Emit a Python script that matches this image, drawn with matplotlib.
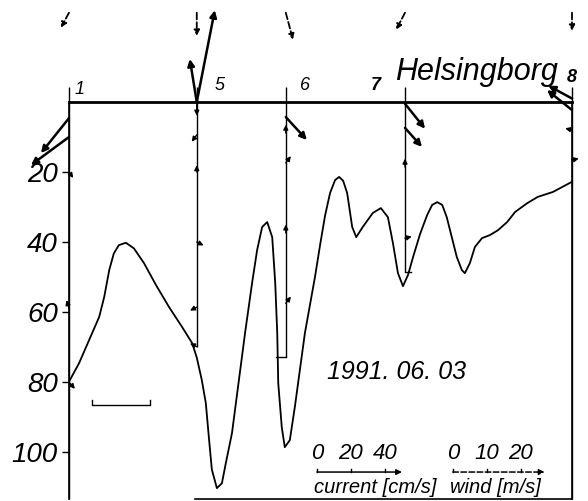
"""
Section plot 1991-06-03 off Helsingborg: pycnocline depth along the
station line, current vectors at the stations and wind at the surface.
"""
import matplotlib
matplotlib.use("Agg")
import matplotlib.pyplot as plt
import numpy as np

# stations along the section (distance in km from station 1)
station_names = ["1", "5", "6", "7", "8"]
station_dist = [0.0, 2.54, 4.31, 6.68, 10.0]
station_bottom = [113.4, 69.9, 72.9, 48.5, 113.4]

# interface depth (m) along the section
section_dist = [0.00, 0.20, 0.40, 0.60, 0.70, 0.80, 0.89, 0.99, 1.13, 1.29,
                1.49, 1.73, 1.99, 2.25, 2.45, 2.54, 2.64, 2.72, 2.78, 2.84,
                2.94, 3.04, 3.12, 3.24, 3.36, 3.50, 3.64, 3.74, 3.84, 3.94,
                4.04, 4.10, 4.14, 4.16, 4.23, 4.29, 4.39, 4.49, 4.69, 4.79,
                4.89, 4.99, 5.09, 5.19, 5.29, 5.37, 5.45, 5.53, 5.63, 5.71,
                5.84, 6.04, 6.20, 6.34, 6.44, 6.54, 6.64, 6.74, 6.84, 6.98,
                7.12, 7.22, 7.32, 7.42, 7.51, 7.61, 7.71, 7.81, 7.87, 7.97,
                8.07, 8.21, 8.37, 8.53, 8.71, 8.87, 9.11, 9.32, 9.62, 9.96,
                10.00]
section_depth = [79.9, 74.6, 68.0, 61.4, 55.7, 48.0, 43.3, 40.9, 40.2, 41.8,
                 46.0, 52.3, 58.6, 64.3, 68.9, 73.0, 79.4, 86.0, 95.7, 105.0,
                 110.3, 108.9, 103.0, 94.6, 81.4, 66.0, 51.7, 42.3, 35.7, 34.3,
                 38.6, 51.7, 66.0, 80.3, 92.9, 98.6, 96.6, 87.1, 66.0, 58.0,
                 50.0, 41.0, 32.5, 26.0, 22.3, 21.4, 22.5, 26.0, 35.7, 38.6,
                 35.7, 31.7, 30.3, 32.9, 40.3, 48.9, 52.6, 49.4, 44.3, 37.7,
                 32.3, 29.4, 28.6, 29.4, 32.9, 38.6, 44.3, 48.0, 48.9, 46.0,
                 41.4, 38.9, 38.0, 36.6, 34.3, 31.4, 28.9, 27.1, 25.7, 23.1,
                 22.8]

# current vectors: station index, depth (m), east and north component (cm/s)
cur_station = [0, 0, 0, 0, 0,
               1, 1, 1, 1, 1, 1, 1, 1,
               2, 2, 2, 2, 2,
               3, 3, 3, 3,
               4, 4, 4, 4]
cur_depth = [4.6, 10.0, 20.0, 59.0, 80.0,
             0.0, 0.0, 0.5, 9.4, 20.0, 40.0, 58.6, 69.9,
             4.3, 8.9, 17.4, 37.4, 57.5,
             0.5, 7.4, 18.6, 38.9,
             2.3, -1.0, 8.0, 16.6]
cur_u = [-16.5, -22.4, 2.5, -1.5, 3.5,
         10.6, -4.1, 0.0, -3.0, 0.0, 4.0, -4.0, -4.0,
         12.4, 0.0, 3.0, 0.0, 3.0,
         11.8, 10.0, 0.0, 4.0,
         -14.7, -14.0, -4.0, 4.0]
cur_v = [-20.6, -16.5, -3.5, 5.0, -4.0,
         54.0, 25.3, -7.0, -4.0, 4.0, -2.0, -2.0, 2.0,
         -13.5, 5.0, 4.0, 5.0, 4.0,
         -14.7, -11.2, 5.0, 1.0,
         11.8, 7.6, 1.0, 1.0]

# wind at each station (m/s)
wind_u = [-2.4, 0.0, 2.1, -2.6, 0.0]
wind_v = [-4.4, -6.8, -7.9, -5.0, -5.3]

# scale bars
cur_ticks = [0, 20, 40]
wind_ticks = [0, 10, 20]
dist_bar = [0.46, 1.61]
dist_bar_depth = 86.6

CUR_PX = 1.7    # pixels per cm/s
WIND_PX = 3.4   # pixels per m/s
WIND_ROW = -25.5

NUM_FONT = ["Liberation Sans Narrow", "Liberation Sans", "DejaVu Sans"]
TXT_FONT = ["Liberation Sans", "DejaVu Sans"]


def offset(ax, x, d, dx_px, dy_px):
    x0, y0 = ax.transData.transform((x, d))
    return ax.transData.inverted().transform((x0 + dx_px, y0 + dy_px))


def draw_vec(ax, x, d, u, v, px, dashed=False, lw=1.6, head=9):
    tip = offset(ax, x, d, u * px, v * px)
    ax.annotate("", xy=tip, xytext=(x, d),
                arrowprops=dict(arrowstyle="-|>", color="black", lw=lw,
                                linestyle="--" if dashed else "-",
                                mutation_scale=head, shrinkA=0, shrinkB=0),
                annotation_clip=False)


fig = plt.figure(figsize=(5.88, 5.01), dpi=100)
ax = fig.add_axes([69 / 588, 2 / 501, 503 / 588, 397 / 501])
ax.set_xlim(0, 10)
ax.set_ylim(113.4, 0)

ax.plot(section_dist, section_depth, color="black", lw=1.3,
        solid_joinstyle="round", solid_capstyle="round")
ax.vlines(station_dist, -4.3, station_bottom, color="black", lw=1.0, clip_on=False)

# bottom hooks of the shorter station lines
ax.plot([station_dist[2], station_dist[2] - 0.2], [station_bottom[2]] * 2,
        color="black", lw=1.0)
ax.plot([station_dist[3], station_dist[3] + 0.12], [station_bottom[3]] * 2,
        color="black", lw=1.0)

for i, (u, v) in enumerate(zip(wind_u, wind_v)):
    draw_vec(ax, station_dist[i], WIND_ROW, u, v, WIND_PX, dashed=True, lw=1.3, head=8)

for s, d, u, v in zip(cur_station, cur_depth, cur_u, cur_v):
    small = np.hypot(u, v) < 10
    draw_vec(ax, station_dist[s], d, u, v, CUR_PX,
             lw=1.0 if small else 1.8, head=7 if small else 10)

# station numbers
label_dx = [11, 23, 19, -29, 0]
label_dy = [12, 16, 17, 16, 25]
for i, name in enumerate(station_names):
    ax.annotate(name, (station_dist[i], 0), xytext=(label_dx[i], label_dy[i]),
                textcoords="offset pixels", ha="center", va="center",
                fontsize=13, style="italic", family=NUM_FONT,
                fontweight="bold" if name in ("7", "8") else "normal",
                annotation_clip=False)

ax.text(6.48, -6.3, "Helsingborg", fontsize=22, style="italic", family=TXT_FONT,
        ha="left", va="baseline", clip_on=False)
ax.text(5.13, 77, "1991. 06. 03", fontsize=18, style="italic", family=NUM_FONT,
        ha="left", va="center")

# distance scale bracket
ax.plot([dist_bar[0], dist_bar[0], dist_bar[1], dist_bar[1]],
        [dist_bar_depth - 1.5, dist_bar_depth, dist_bar_depth, dist_bar_depth - 1.5],
        color="black", lw=1.0)

# current / wind scale
scale_depth = 105.7
for x0, ticks, px, dashed, word in [(4.93, cur_ticks, CUR_PX, False, "current [cm/s]"),
                                    (7.63, wind_ticks, WIND_PX, True, "wind [m/s]")]:
    extra = 50 if not dashed else 27
    draw_vec(ax, x0, scale_depth, extra, 0, px, dashed=dashed, lw=1.1, head=8)
    for t in ticks:
        tx, _ = offset(ax, x0, scale_depth, t * px, 0)
        ax.plot([tx, tx], [scale_depth, scale_depth - 0.8], color="black", lw=1.0)
        ax.text(tx, 100.3, str(t), fontsize=16, style="italic", family=NUM_FONT,
                ha="center", va="center")
    ax.text(x0 - 0.06, 110.2, word, fontsize=14.5, style="italic", family=TXT_FONT,
            ha="left", va="center", clip_on=False)

ax.set_xticks([])
ax.set_yticks([20, 40, 60, 80, 100])
ax.tick_params(axis="y", direction="out", length=5, width=1.0, pad=3.0, labelsize=20)
for lab in ax.get_yticklabels():
    lab.set_fontstyle("italic")
    lab.set_family(NUM_FONT)

ax.spines["top"].set_linewidth(2.0)
ax.spines["left"].set_linewidth(1.2)
ax.spines["right"].set_linewidth(1.2)
ax.spines["bottom"].set_linewidth(1.2)
ax.spines["bottom"].set_bounds(2.5, 10)

fig.savefig("out.png", dpi=100)
